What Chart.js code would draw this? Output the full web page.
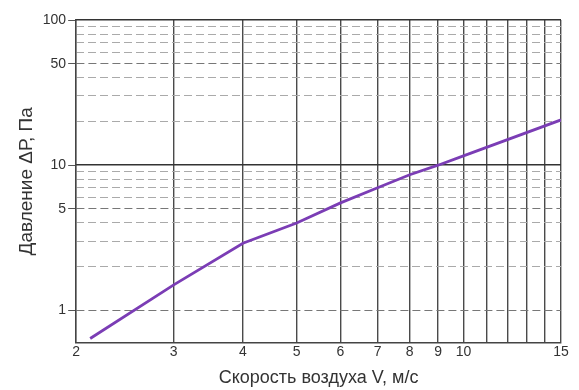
<!DOCTYPE html>
<html>
<head>
<meta charset="utf-8">
<script src="https://cdn.jsdelivr.net/npm/chart.js@4/dist/chart.umd.min.js"></script>
<style>
	body { margin: 0; background: #fff; }
</style>
</head>
<body>
<canvas id="chart" width="579" height="390"></canvas>
<script>
// скорость воздуха, м/с и давление, Па
const speedV = [2.12, 3, 4, 5, 6, 7, 8, 9, 10, 15];
const pressureDP = [0.64, 1.5, 2.9, 4.0, 5.5, 7.0, 8.6, 10, 11.6, 20.5];

const xTicks = [2, 3, 4, 5, 6, 7, 8, 9, 10, 11, 12, 13, 14, 15];
const xLabels = [2, 3, 4, 5, 6, 7, 8, 9, 10, 15];
const yLabels = [1, 5, 10, 50, 100];
const yMinor = [2, 3, 4, 6, 7, 8, 9, 20, 30, 40, 60, 70, 80, 90];
const yMajor = [10, 100];

const yMin = 0.64, yMax = 100;
const family = "'Liberation Sans', Arial, sans-serif";
const tickFont = { family: family, size: 14 };

var points = speedV.map(function (v, i) { return { x: v, y: pressureDP[i] }; });

function fixTicks(list) {
	return function (scale) {
		scale.ticks = list.map(function (v) { return { value: v }; });
	};
}

new Chart(document.getElementById("chart"), {
	type: 'line',
	data: {
		datasets: [{
			data: points,
			borderColor: '#7b3db5',
			borderWidth: 2.8,
			pointRadius: 0,
			tension: 0,
		}]
	},
	options: {
		responsive: false,
		animation: false,
		layout: { padding: { left: 12, right: 18, top: 20, bottom: 1 } },
		plugins: { legend: { display: false }, tooltip: { enabled: false } },
		scales: {
			x: {
				type: 'logarithmic',
				min: 2,
				max: 15,
				afterBuildTicks: fixTicks(xTicks),
				ticks: {
					autoSkip: false,
					maxRotation: 0,
					padding: 1,
					color: '#333',
					font: tickFont,
					callback: function (v) { return xLabels.indexOf(v) >= 0 ? String(v) : ''; }
				},
				grid: { color: '#4a4a4a', lineWidth: 1.4, drawTicks: false },
				border: { color: '#444', width: 1.4 },
				title: {
					display: true,
					text: 'Скорость воздуха V, м/с',
					color: '#333',
					font: { family: family, size: 18 },
					padding: { top: 6, bottom: 0 }
				}
			},
			y: {
				type: 'logarithmic',
				position: 'left',
				min: yMin,
				max: yMax,
				afterBuildTicks: fixTicks(yLabels),
				ticks: {
					padding: 2,
					color: '#333',
					font: tickFont,
					callback: function (v) { return String(v); }
				},
				grid: {
					color: function (c) {
						var v = c.tick && c.tick.value;
						return (v === 10 || v === 100) ? 'rgba(0,0,0,0)' : '#777';
					},
					tickColor: '#555',
					tickLength: 8,
					lineWidth: 1
				},
				border: { color: '#444', width: 1.4, dash: [8, 4] },
				title: {
					display: true,
					text: 'Давление ΔР, Па',
					color: '#333',
					font: { family: family, size: 19 },
					padding: { top: 3, bottom: 3 }
				}
			},
			yMinor: {
				type: 'logarithmic',
				position: 'left',
				min: yMin,
				max: yMax,
				afterBuildTicks: fixTicks(yMinor),
				ticks: { display: false },
				grid: { color: '#aaa', lineWidth: 1, drawTicks: false },
				border: { display: false, dash: [8, 4] }
			},
			yMajor: {
				type: 'logarithmic',
				position: 'left',
				min: yMin,
				max: yMax,
				afterBuildTicks: fixTicks(yMajor),
				ticks: { display: false },
				grid: { color: '#333', lineWidth: 1.4, drawTicks: false },
				border: { display: false }
			}
		}
	}
});
</script>
</body>
</html>
